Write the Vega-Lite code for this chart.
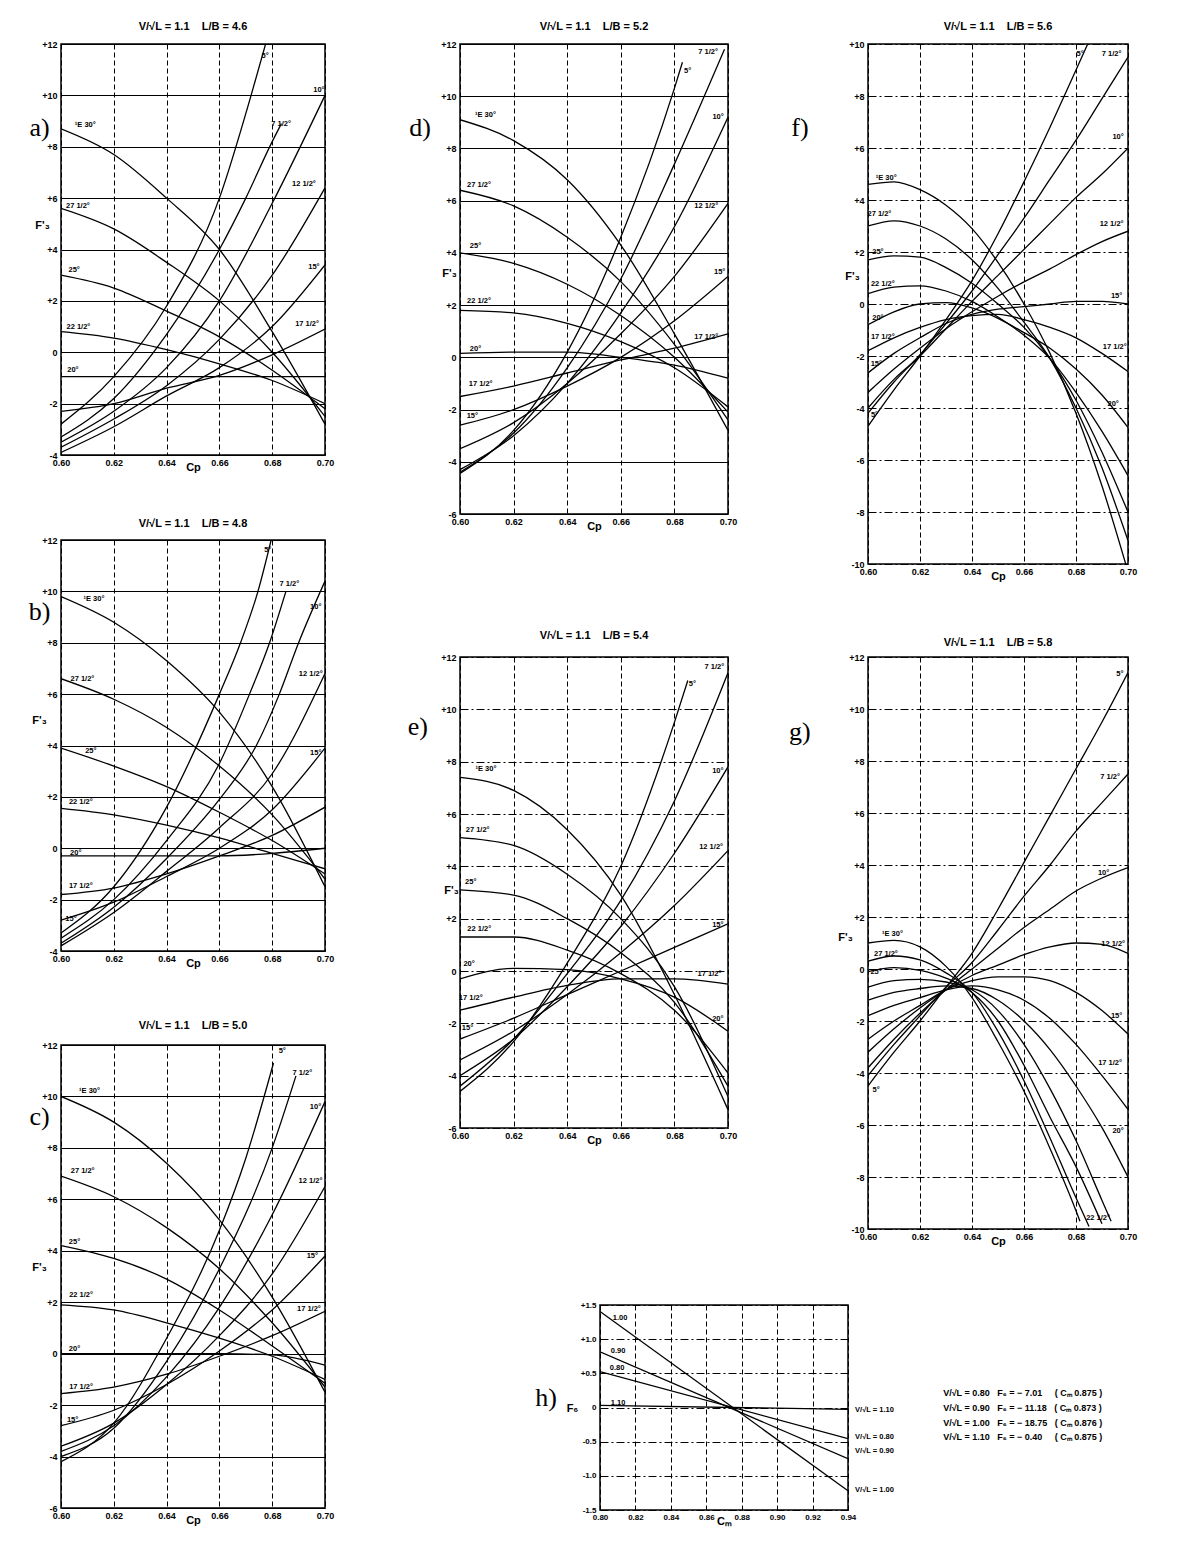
{
"$schema": "https://vega.github.io/schema/vega-lite/v6.json",
"background": "white",
"padding": {"left": 27, "top": 20, "right": 0, "bottom": 0},
"config": {
 "view": {"stroke": "black", "strokeWidth": 1.5},
 "title": {"font": "Liberation Sans", "fontSize": 11, "fontWeight": "bold", "color": "black"},
 "axis": {"domain": false, "ticks": false, "labelFont": "Liberation Sans", "labelFontSize": 9, "labelFontWeight": "bold", "labelColor": "black", "gridColor": "black", "gridOpacity": 1, "gridWidth": 1, "titleFont": "Liberation Sans", "titleFontSize": 11, "titleFontWeight": "bold", "titleColor": "black", "labelOverlap": false},
 "axisX": {"labelFlush": false, "labelPadding": 3, "titlePadding": -6, "gridDash": [5, 3]},
 "axisY": {"labelPadding": 4, "titleAngle": 0, "titleAlign": "center", "titleBaseline": "middle"},
 "line": {"interpolate": "monotone", "strokeWidth": 1.3, "color": "black"},
 "text": {"font": "Liberation Sans", "fontSize": 7.5, "fontWeight": "bold", "color": "black"}
},
"datasets": {
"curves": [
{"p":"a","c":"30","x":0.6,"y":8.7},{"p":"a","c":"30","x":0.62,"y":7.7},{"p":"a","c":"30","x":0.64,"y":6.0},{"p":"a","c":"30","x":0.66,"y":4.0},{"p":"a","c":"30","x":0.68,"y":0.8},{"p":"a","c":"30","x":0.7,"y":-2.8},
{"p":"a","c":"27","x":0.6,"y":5.6},{"p":"a","c":"27","x":0.62,"y":4.8},{"p":"a","c":"27","x":0.64,"y":3.5},{"p":"a","c":"27","x":0.66,"y":2.0},{"p":"a","c":"27","x":0.68,"y":0.0},{"p":"a","c":"27","x":0.7,"y":-2.5},
{"p":"a","c":"25","x":0.6,"y":3.0},{"p":"a","c":"25","x":0.62,"y":2.5},{"p":"a","c":"25","x":0.64,"y":1.6},{"p":"a","c":"25","x":0.66,"y":0.6},{"p":"a","c":"25","x":0.68,"y":-0.7},{"p":"a","c":"25","x":0.7,"y":-2.2},
{"p":"a","c":"22","x":0.6,"y":0.8},{"p":"a","c":"22","x":0.62,"y":0.55},{"p":"a","c":"22","x":0.64,"y":0.1},{"p":"a","c":"22","x":0.66,"y":-0.45},{"p":"a","c":"22","x":0.68,"y":-1.1},{"p":"a","c":"22","x":0.7,"y":-2.0},
{"p":"a","c":"20","x":0.6,"y":-0.95},{"p":"a","c":"20","x":0.62,"y":-0.95},{"p":"a","c":"20","x":0.64,"y":-0.95},{"p":"a","c":"20","x":0.66,"y":-0.95},{"p":"a","c":"20","x":0.68,"y":-0.95},{"p":"a","c":"20","x":0.7,"y":-0.95},
{"p":"a","c":"17","x":0.6,"y":-2.3},{"p":"a","c":"17","x":0.62,"y":-2.0},{"p":"a","c":"17","x":0.64,"y":-1.4},{"p":"a","c":"17","x":0.66,"y":-0.9},{"p":"a","c":"17","x":0.68,"y":-0.1},{"p":"a","c":"17","x":0.7,"y":0.9},
{"p":"a","c":"15","x":0.6,"y":-3.9},{"p":"a","c":"15","x":0.62,"y":-2.9},{"p":"a","c":"15","x":0.64,"y":-1.7},{"p":"a","c":"15","x":0.66,"y":-0.6},{"p":"a","c":"15","x":0.68,"y":1.0},{"p":"a","c":"15","x":0.7,"y":3.4},
{"p":"a","c":"12","x":0.6,"y":-3.7},{"p":"a","c":"12","x":0.62,"y":-2.6},{"p":"a","c":"12","x":0.64,"y":-1.3},{"p":"a","c":"12","x":0.66,"y":0.5},{"p":"a","c":"12","x":0.68,"y":3.0},{"p":"a","c":"12","x":0.7,"y":6.4},
{"p":"a","c":"10","x":0.6,"y":-3.5},{"p":"a","c":"10","x":0.62,"y":-2.3},{"p":"a","c":"10","x":0.64,"y":-0.6},{"p":"a","c":"10","x":0.66,"y":2.0},{"p":"a","c":"10","x":0.68,"y":5.8},{"p":"a","c":"10","x":0.7,"y":10.0},
{"p":"a","c":"7","x":0.6,"y":-3.3},{"p":"a","c":"7","x":0.62,"y":-1.8},{"p":"a","c":"7","x":0.64,"y":0.7},{"p":"a","c":"7","x":0.66,"y":4.0},{"p":"a","c":"7","x":0.67,"y":6.0},{"p":"a","c":"7","x":0.68,"y":8.2},{"p":"a","c":"7","x":0.6835,"y":8.9},
{"p":"a","c":"5","x":0.6,"y":-2.8},{"p":"a","c":"5","x":0.62,"y":-0.95},{"p":"a","c":"5","x":0.64,"y":1.8},{"p":"a","c":"5","x":0.66,"y":6.0},{"p":"a","c":"5","x":0.672,"y":10.0},{"p":"a","c":"5","x":0.6775,"y":12.0},

{"p":"b","c":"30","x":0.6,"y":9.8},{"p":"b","c":"30","x":0.62,"y":8.8},{"p":"b","c":"30","x":0.64,"y":7.3},{"p":"b","c":"30","x":0.66,"y":5.3},{"p":"b","c":"30","x":0.68,"y":2.4},{"p":"b","c":"30","x":0.7,"y":-1.5},
{"p":"b","c":"27","x":0.6,"y":6.6},{"p":"b","c":"27","x":0.62,"y":5.8},{"p":"b","c":"27","x":0.64,"y":4.7},{"p":"b","c":"27","x":0.66,"y":3.2},{"p":"b","c":"27","x":0.68,"y":1.3},{"p":"b","c":"27","x":0.7,"y":-1.2},
{"p":"b","c":"25","x":0.6,"y":3.9},{"p":"b","c":"25","x":0.62,"y":3.2},{"p":"b","c":"25","x":0.64,"y":2.4},{"p":"b","c":"25","x":0.66,"y":1.4},{"p":"b","c":"25","x":0.68,"y":0.3},{"p":"b","c":"25","x":0.7,"y":-1.0},
{"p":"b","c":"22","x":0.6,"y":1.55},{"p":"b","c":"22","x":0.62,"y":1.3},{"p":"b","c":"22","x":0.64,"y":0.9},{"p":"b","c":"22","x":0.66,"y":0.4},{"p":"b","c":"22","x":0.68,"y":-0.2},{"p":"b","c":"22","x":0.7,"y":-0.8},
{"p":"b","c":"20","x":0.6,"y":-0.3},{"p":"b","c":"20","x":0.62,"y":-0.3},{"p":"b","c":"20","x":0.64,"y":-0.3},{"p":"b","c":"20","x":0.66,"y":-0.3},{"p":"b","c":"20","x":0.68,"y":-0.2},{"p":"b","c":"20","x":0.7,"y":0.0},
{"p":"b","c":"17","x":0.6,"y":-1.8},{"p":"b","c":"17","x":0.62,"y":-1.55},{"p":"b","c":"17","x":0.64,"y":-1.0},{"p":"b","c":"17","x":0.66,"y":-0.3},{"p":"b","c":"17","x":0.68,"y":0.5},{"p":"b","c":"17","x":0.7,"y":1.6},
{"p":"b","c":"15","x":0.6,"y":-2.8},{"p":"b","c":"15","x":0.62,"y":-2.1},{"p":"b","c":"15","x":0.64,"y":-1.1},{"p":"b","c":"15","x":0.66,"y":0.0},{"p":"b","c":"15","x":0.68,"y":1.5},{"p":"b","c":"15","x":0.7,"y":3.9},
{"p":"b","c":"12","x":0.6,"y":-3.8},{"p":"b","c":"12","x":0.62,"y":-2.5},{"p":"b","c":"12","x":0.64,"y":-0.9},{"p":"b","c":"12","x":0.66,"y":0.8},{"p":"b","c":"12","x":0.68,"y":2.9},{"p":"b","c":"12","x":0.7,"y":6.8},
{"p":"b","c":"10","x":0.6,"y":-3.7},{"p":"b","c":"10","x":0.62,"y":-2.3},{"p":"b","c":"10","x":0.64,"y":-0.4},{"p":"b","c":"10","x":0.66,"y":1.9},{"p":"b","c":"10","x":0.674,"y":4.0},{"p":"b","c":"10","x":0.6827,"y":6.0},{"p":"b","c":"10","x":0.69,"y":8.0},{"p":"b","c":"10","x":0.7,"y":10.4},
{"p":"b","c":"7","x":0.6,"y":-3.5},{"p":"b","c":"7","x":0.62,"y":-2.0},{"p":"b","c":"7","x":0.64,"y":0.3},{"p":"b","c":"7","x":0.66,"y":3.3},{"p":"b","c":"7","x":0.6714,"y":6.0},{"p":"b","c":"7","x":0.679,"y":8.0},{"p":"b","c":"7","x":0.6852,"y":10.0},
{"p":"b","c":"5","x":0.6,"y":-3.3},{"p":"b","c":"5","x":0.62,"y":-1.5},{"p":"b","c":"5","x":0.64,"y":1.6},{"p":"b","c":"5","x":0.66,"y":6.0},{"p":"b","c":"5","x":0.668,"y":8.0},{"p":"b","c":"5","x":0.6746,"y":10.0},{"p":"b","c":"5","x":0.6796,"y":12.0},

{"p":"c","c":"30","x":0.6,"y":10.0},{"p":"c","c":"30","x":0.62,"y":9.0},{"p":"c","c":"30","x":0.64,"y":7.4},{"p":"c","c":"30","x":0.66,"y":5.2},{"p":"c","c":"30","x":0.68,"y":2.2},{"p":"c","c":"30","x":0.7,"y":-1.5},
{"p":"c","c":"27","x":0.6,"y":6.9},{"p":"c","c":"27","x":0.62,"y":6.1},{"p":"c","c":"27","x":0.64,"y":4.9},{"p":"c","c":"27","x":0.66,"y":3.3},{"p":"c","c":"27","x":0.68,"y":1.2},{"p":"c","c":"27","x":0.7,"y":-1.3},
{"p":"c","c":"25","x":0.6,"y":4.2},{"p":"c","c":"25","x":0.62,"y":3.7},{"p":"c","c":"25","x":0.64,"y":2.9},{"p":"c","c":"25","x":0.66,"y":1.7},{"p":"c","c":"25","x":0.68,"y":0.3},{"p":"c","c":"25","x":0.7,"y":-1.15},
{"p":"c","c":"22","x":0.6,"y":1.9},{"p":"c","c":"22","x":0.62,"y":1.7},{"p":"c","c":"22","x":0.64,"y":1.2},{"p":"c","c":"22","x":0.66,"y":0.6},{"p":"c","c":"22","x":0.68,"y":-0.1},{"p":"c","c":"22","x":0.7,"y":-1.0},
{"p":"c","c":"20","x":0.6,"y":0.0},{"p":"c","c":"20","x":0.62,"y":0.0},{"p":"c","c":"20","x":0.64,"y":0.0},{"p":"c","c":"20","x":0.66,"y":0.0},{"p":"c","c":"20","x":0.68,"y":-0.05},{"p":"c","c":"20","x":0.7,"y":-0.45},
{"p":"c","c":"17","x":0.6,"y":-1.55},{"p":"c","c":"17","x":0.62,"y":-1.3},{"p":"c","c":"17","x":0.64,"y":-0.8},{"p":"c","c":"17","x":0.66,"y":-0.1},{"p":"c","c":"17","x":0.68,"y":0.7},{"p":"c","c":"17","x":0.7,"y":1.65},
{"p":"c","c":"15","x":0.6,"y":-2.8},{"p":"c","c":"15","x":0.62,"y":-2.2},{"p":"c","c":"15","x":0.64,"y":-1.2},{"p":"c","c":"15","x":0.66,"y":0.1},{"p":"c","c":"15","x":0.68,"y":1.7},{"p":"c","c":"15","x":0.7,"y":3.8},
{"p":"c","c":"12","x":0.6,"y":-3.6},{"p":"c","c":"12","x":0.62,"y":-2.7},{"p":"c","c":"12","x":0.64,"y":-1.2},{"p":"c","c":"12","x":0.66,"y":0.7},{"p":"c","c":"12","x":0.68,"y":3.1},{"p":"c","c":"12","x":0.7,"y":6.5},
{"p":"c","c":"10","x":0.6,"y":-3.8},{"p":"c","c":"10","x":0.62,"y":-2.8},{"p":"c","c":"10","x":0.64,"y":-0.9},{"p":"c","c":"10","x":0.66,"y":1.8},{"p":"c","c":"10","x":0.68,"y":5.4},{"p":"c","c":"10","x":0.7,"y":9.8},
{"p":"c","c":"7","x":0.6,"y":-4.0},{"p":"c","c":"7","x":0.62,"y":-2.9},{"p":"c","c":"7","x":0.64,"y":-0.3},{"p":"c","c":"7","x":0.66,"y":3.3},{"p":"c","c":"7","x":0.68,"y":8.0},{"p":"c","c":"7","x":0.689,"y":10.8},
{"p":"c","c":"5","x":0.6,"y":-4.2},{"p":"c","c":"5","x":0.62,"y":-2.7},{"p":"c","c":"5","x":0.64,"y":0.6},{"p":"c","c":"5","x":0.66,"y":4.8},{"p":"c","c":"5","x":0.67,"y":7.6},{"p":"c","c":"5","x":0.6805,"y":11.3},

{"p":"d","c":"30","x":0.6,"y":9.1},{"p":"d","c":"30","x":0.62,"y":8.3},{"p":"d","c":"30","x":0.64,"y":6.8},{"p":"d","c":"30","x":0.66,"y":4.3},{"p":"d","c":"30","x":0.68,"y":0.9},{"p":"d","c":"30","x":0.7,"y":-2.8},
{"p":"d","c":"27","x":0.6,"y":6.4},{"p":"d","c":"27","x":0.62,"y":5.8},{"p":"d","c":"27","x":0.64,"y":4.6},{"p":"d","c":"27","x":0.66,"y":2.9},{"p":"d","c":"27","x":0.68,"y":0.5},{"p":"d","c":"27","x":0.7,"y":-2.4},
{"p":"d","c":"25","x":0.6,"y":4.0},{"p":"d","c":"25","x":0.62,"y":3.6},{"p":"d","c":"25","x":0.64,"y":2.8},{"p":"d","c":"25","x":0.66,"y":1.6},{"p":"d","c":"25","x":0.68,"y":0.0},{"p":"d","c":"25","x":0.7,"y":-2.1},
{"p":"d","c":"22","x":0.6,"y":1.8},{"p":"d","c":"22","x":0.62,"y":1.7},{"p":"d","c":"22","x":0.64,"y":1.3},{"p":"d","c":"22","x":0.66,"y":0.6},{"p":"d","c":"22","x":0.68,"y":-0.4},{"p":"d","c":"22","x":0.7,"y":-1.9},
{"p":"d","c":"20","x":0.6,"y":0.15},{"p":"d","c":"20","x":0.62,"y":0.2},{"p":"d","c":"20","x":0.64,"y":0.2},{"p":"d","c":"20","x":0.66,"y":0.0},{"p":"d","c":"20","x":0.68,"y":-0.3},{"p":"d","c":"20","x":0.7,"y":-0.8},
{"p":"d","c":"17","x":0.6,"y":-1.5},{"p":"d","c":"17","x":0.62,"y":-1.1},{"p":"d","c":"17","x":0.64,"y":-0.6},{"p":"d","c":"17","x":0.66,"y":-0.1},{"p":"d","c":"17","x":0.68,"y":0.35},{"p":"d","c":"17","x":0.7,"y":0.9},
{"p":"d","c":"15","x":0.6,"y":-2.6},{"p":"d","c":"15","x":0.62,"y":-2.0},{"p":"d","c":"15","x":0.64,"y":-1.1},{"p":"d","c":"15","x":0.66,"y":0.0},{"p":"d","c":"15","x":0.68,"y":1.4},{"p":"d","c":"15","x":0.7,"y":3.1},
{"p":"d","c":"12","x":0.6,"y":-3.5},{"p":"d","c":"12","x":0.62,"y":-2.5},{"p":"d","c":"12","x":0.64,"y":-1.0},{"p":"d","c":"12","x":0.66,"y":0.9},{"p":"d","c":"12","x":0.68,"y":3.1},{"p":"d","c":"12","x":0.7,"y":5.9},
{"p":"d","c":"10","x":0.6,"y":-4.3},{"p":"d","c":"10","x":0.62,"y":-3.0},{"p":"d","c":"10","x":0.64,"y":-1.0},{"p":"d","c":"10","x":0.66,"y":1.7},{"p":"d","c":"10","x":0.68,"y":5.0},{"p":"d","c":"10","x":0.7,"y":9.2},
{"p":"d","c":"7","x":0.6,"y":-4.4},{"p":"d","c":"7","x":0.62,"y":-2.9},{"p":"d","c":"7","x":0.64,"y":-0.4},{"p":"d","c":"7","x":0.66,"y":3.0},{"p":"d","c":"7","x":0.68,"y":7.4},{"p":"d","c":"7","x":0.6987,"y":11.8},
{"p":"d","c":"5","x":0.6,"y":-4.45},{"p":"d","c":"5","x":0.62,"y":-2.8},{"p":"d","c":"5","x":0.64,"y":0.2},{"p":"d","c":"5","x":0.66,"y":4.6},{"p":"d","c":"5","x":0.68,"y":10.3},{"p":"d","c":"5","x":0.683,"y":11.3},

{"p":"e","c":"30","x":0.6,"y":7.4},{"p":"e","c":"30","x":0.62,"y":6.9},{"p":"e","c":"30","x":0.64,"y":5.4},{"p":"e","c":"30","x":0.66,"y":2.9},{"p":"e","c":"30","x":0.68,"y":-0.9},{"p":"e","c":"30","x":0.7,"y":-5.3},
{"p":"e","c":"27","x":0.6,"y":5.1},{"p":"e","c":"27","x":0.62,"y":4.8},{"p":"e","c":"27","x":0.64,"y":3.7},{"p":"e","c":"27","x":0.66,"y":2.0},{"p":"e","c":"27","x":0.68,"y":-0.6},{"p":"e","c":"27","x":0.7,"y":-4.8},
{"p":"e","c":"25","x":0.6,"y":3.1},{"p":"e","c":"25","x":0.62,"y":2.9},{"p":"e","c":"25","x":0.64,"y":2.0},{"p":"e","c":"25","x":0.66,"y":0.7},{"p":"e","c":"25","x":0.68,"y":-1.2},{"p":"e","c":"25","x":0.7,"y":-4.4},
{"p":"e","c":"22","x":0.6,"y":1.3},{"p":"e","c":"22","x":0.62,"y":1.3},{"p":"e","c":"22","x":0.64,"y":0.8},{"p":"e","c":"22","x":0.66,"y":-0.1},{"p":"e","c":"22","x":0.68,"y":-1.5},{"p":"e","c":"22","x":0.7,"y":-3.9},
{"p":"e","c":"20","x":0.6,"y":-0.3},{"p":"e","c":"20","x":0.62,"y":0.1},{"p":"e","c":"20","x":0.64,"y":0.05},{"p":"e","c":"20","x":0.66,"y":-0.3},{"p":"e","c":"20","x":0.68,"y":-1.0},{"p":"e","c":"20","x":0.7,"y":-2.3},
{"p":"e","c":"17","x":0.6,"y":-1.5},{"p":"e","c":"17","x":0.62,"y":-1.0},{"p":"e","c":"17","x":0.64,"y":-0.55},{"p":"e","c":"17","x":0.66,"y":-0.3},{"p":"e","c":"17","x":0.68,"y":-0.3},{"p":"e","c":"17","x":0.7,"y":-0.5},
{"p":"e","c":"15","x":0.6,"y":-2.6},{"p":"e","c":"15","x":0.62,"y":-1.8},{"p":"e","c":"15","x":0.64,"y":-0.9},{"p":"e","c":"15","x":0.66,"y":0.0},{"p":"e","c":"15","x":0.68,"y":0.9},{"p":"e","c":"15","x":0.7,"y":1.8},
{"p":"e","c":"12","x":0.6,"y":-3.4},{"p":"e","c":"12","x":0.62,"y":-2.3},{"p":"e","c":"12","x":0.64,"y":-0.9},{"p":"e","c":"12","x":0.66,"y":0.7},{"p":"e","c":"12","x":0.68,"y":2.5},{"p":"e","c":"12","x":0.7,"y":4.6},
{"p":"e","c":"10","x":0.6,"y":-4.0},{"p":"e","c":"10","x":0.62,"y":-2.6},{"p":"e","c":"10","x":0.64,"y":-0.6},{"p":"e","c":"10","x":0.66,"y":1.7},{"p":"e","c":"10","x":0.68,"y":4.5},{"p":"e","c":"10","x":0.7,"y":7.8},
{"p":"e","c":"7","x":0.6,"y":-4.4},{"p":"e","c":"7","x":0.62,"y":-2.6},{"p":"e","c":"7","x":0.64,"y":-0.1},{"p":"e","c":"7","x":0.66,"y":2.7},{"p":"e","c":"7","x":0.68,"y":6.5},{"p":"e","c":"7","x":0.7,"y":11.4},
{"p":"e","c":"5","x":0.6,"y":-4.6},{"p":"e","c":"5","x":0.62,"y":-2.7},{"p":"e","c":"5","x":0.64,"y":0.3},{"p":"e","c":"5","x":0.66,"y":4.0},{"p":"e","c":"5","x":0.68,"y":9.5},{"p":"e","c":"5","x":0.685,"y":11.1},

{"p":"f","c":"30","x":0.6,"y":4.6},{"p":"f","c":"30","x":0.61,"y":4.7},{"p":"f","c":"30","x":0.62,"y":4.4},{"p":"f","c":"30","x":0.63,"y":3.8},{"p":"f","c":"30","x":0.64,"y":2.9},{"p":"f","c":"30","x":0.65,"y":1.6},{"p":"f","c":"30","x":0.66,"y":0.0},{"p":"f","c":"30","x":0.67,"y":-1.9},{"p":"f","c":"30","x":0.68,"y":-4.2},{"p":"f","c":"30","x":0.69,"y":-7.0},{"p":"f","c":"30","x":0.7,"y":-10.3},
{"p":"f","c":"27","x":0.6,"y":3.0},{"p":"f","c":"27","x":0.61,"y":3.2},{"p":"f","c":"27","x":0.62,"y":3.0},{"p":"f","c":"27","x":0.63,"y":2.5},{"p":"f","c":"27","x":0.64,"y":1.7},{"p":"f","c":"27","x":0.65,"y":0.6},{"p":"f","c":"27","x":0.66,"y":-0.7},{"p":"f","c":"27","x":0.67,"y":-2.1},{"p":"f","c":"27","x":0.68,"y":-4.0},{"p":"f","c":"27","x":0.69,"y":-6.3},{"p":"f","c":"27","x":0.7,"y":-9.1},
{"p":"f","c":"25","x":0.6,"y":1.7},{"p":"f","c":"25","x":0.61,"y":1.85},{"p":"f","c":"25","x":0.62,"y":1.8},{"p":"f","c":"25","x":0.63,"y":1.4},{"p":"f","c":"25","x":0.64,"y":0.8},{"p":"f","c":"25","x":0.65,"y":0.0},{"p":"f","c":"25","x":0.66,"y":-0.9},{"p":"f","c":"25","x":0.67,"y":-2.1},{"p":"f","c":"25","x":0.68,"y":-3.7},{"p":"f","c":"25","x":0.69,"y":-5.7},{"p":"f","c":"25","x":0.7,"y":-8.0},
{"p":"f","c":"22","x":0.6,"y":0.4},{"p":"f","c":"22","x":0.61,"y":0.65},{"p":"f","c":"22","x":0.62,"y":0.7},{"p":"f","c":"22","x":0.63,"y":0.5},{"p":"f","c":"22","x":0.64,"y":0.1},{"p":"f","c":"22","x":0.65,"y":-0.5},{"p":"f","c":"22","x":0.66,"y":-1.2},{"p":"f","c":"22","x":0.67,"y":-2.1},{"p":"f","c":"22","x":0.68,"y":-3.4},{"p":"f","c":"22","x":0.69,"y":-4.9},{"p":"f","c":"22","x":0.7,"y":-6.6},
{"p":"f","c":"20","x":0.6,"y":-0.8},{"p":"f","c":"20","x":0.61,"y":-0.3},{"p":"f","c":"20","x":0.62,"y":0.0},{"p":"f","c":"20","x":0.63,"y":0.05},{"p":"f","c":"20","x":0.64,"y":-0.15},{"p":"f","c":"20","x":0.65,"y":-0.55},{"p":"f","c":"20","x":0.66,"y":-1.1},{"p":"f","c":"20","x":0.67,"y":-1.7},{"p":"f","c":"20","x":0.68,"y":-2.5},{"p":"f","c":"20","x":0.69,"y":-3.5},{"p":"f","c":"20","x":0.7,"y":-4.75},
{"p":"f","c":"17","x":0.6,"y":-1.8},{"p":"f","c":"17","x":0.61,"y":-1.3},{"p":"f","c":"17","x":0.62,"y":-0.9},{"p":"f","c":"17","x":0.63,"y":-0.6},{"p":"f","c":"17","x":0.64,"y":-0.45},{"p":"f","c":"17","x":0.65,"y":-0.4},{"p":"f","c":"17","x":0.66,"y":-0.6},{"p":"f","c":"17","x":0.67,"y":-0.9},{"p":"f","c":"17","x":0.68,"y":-1.3},{"p":"f","c":"17","x":0.69,"y":-1.9},{"p":"f","c":"17","x":0.7,"y":-2.6},
{"p":"f","c":"15","x":0.6,"y":-2.65},{"p":"f","c":"15","x":0.61,"y":-1.9},{"p":"f","c":"15","x":0.62,"y":-1.3},{"p":"f","c":"15","x":0.63,"y":-0.75},{"p":"f","c":"15","x":0.64,"y":-0.4},{"p":"f","c":"15","x":0.65,"y":-0.2},{"p":"f","c":"15","x":0.66,"y":-0.1},{"p":"f","c":"15","x":0.67,"y":0.0},{"p":"f","c":"15","x":0.68,"y":0.1},{"p":"f","c":"15","x":0.69,"y":0.1},{"p":"f","c":"15","x":0.7,"y":0.0},
{"p":"f","c":"12","x":0.6,"y":-3.4},{"p":"f","c":"12","x":0.61,"y":-2.5},{"p":"f","c":"12","x":0.62,"y":-1.7},{"p":"f","c":"12","x":0.63,"y":-0.95},{"p":"f","c":"12","x":0.64,"y":-0.3},{"p":"f","c":"12","x":0.65,"y":0.3},{"p":"f","c":"12","x":0.66,"y":0.85},{"p":"f","c":"12","x":0.67,"y":1.35},{"p":"f","c":"12","x":0.68,"y":1.9},{"p":"f","c":"12","x":0.69,"y":2.4},{"p":"f","c":"12","x":0.7,"y":2.8},
{"p":"f","c":"10","x":0.6,"y":-4.0},{"p":"f","c":"10","x":0.61,"y":-2.9},{"p":"f","c":"10","x":0.62,"y":-2.0},{"p":"f","c":"10","x":0.63,"y":-0.95},{"p":"f","c":"10","x":0.64,"y":0.1},{"p":"f","c":"10","x":0.65,"y":1.1},{"p":"f","c":"10","x":0.66,"y":2.1},{"p":"f","c":"10","x":0.67,"y":3.1},{"p":"f","c":"10","x":0.68,"y":4.1},{"p":"f","c":"10","x":0.69,"y":5.0},{"p":"f","c":"10","x":0.7,"y":6.0},
{"p":"f","c":"7","x":0.6,"y":-4.2},{"p":"f","c":"7","x":0.61,"y":-3.0},{"p":"f","c":"7","x":0.62,"y":-1.95},{"p":"f","c":"7","x":0.63,"y":-0.75},{"p":"f","c":"7","x":0.64,"y":0.5},{"p":"f","c":"7","x":0.65,"y":1.9},{"p":"f","c":"7","x":0.66,"y":3.3},{"p":"f","c":"7","x":0.67,"y":4.8},{"p":"f","c":"7","x":0.68,"y":6.3},{"p":"f","c":"7","x":0.69,"y":7.9},{"p":"f","c":"7","x":0.7,"y":9.5},
{"p":"f","c":"5","x":0.6,"y":-4.7},{"p":"f","c":"5","x":0.61,"y":-3.3},{"p":"f","c":"5","x":0.62,"y":-2.0},{"p":"f","c":"5","x":0.63,"y":-0.6},{"p":"f","c":"5","x":0.64,"y":0.9},{"p":"f","c":"5","x":0.65,"y":2.7},{"p":"f","c":"5","x":0.66,"y":4.7},{"p":"f","c":"5","x":0.67,"y":6.8},{"p":"f","c":"5","x":0.68,"y":9.0},{"p":"f","c":"5","x":0.6845,"y":10.0},

{"p":"g","c":"30","x":0.6,"y":1.0},{"p":"g","c":"30","x":0.61,"y":1.1},{"p":"g","c":"30","x":0.62,"y":0.85},{"p":"g","c":"30","x":0.63,"y":0.1},{"p":"g","c":"30","x":0.64,"y":-1.1},{"p":"g","c":"30","x":0.65,"y":-2.8},{"p":"g","c":"30","x":0.66,"y":-4.7},{"p":"g","c":"30","x":0.67,"y":-6.9},{"p":"g","c":"30","x":0.68,"y":-9.3},{"p":"g","c":"30","x":0.6815,"y":-9.7},
{"p":"g","c":"27","x":0.6,"y":0.3},{"p":"g","c":"27","x":0.61,"y":0.5},{"p":"g","c":"27","x":0.62,"y":0.35},{"p":"g","c":"27","x":0.63,"y":-0.15},{"p":"g","c":"27","x":0.64,"y":-0.9},{"p":"g","c":"27","x":0.65,"y":-2.4},{"p":"g","c":"27","x":0.66,"y":-4.3},{"p":"g","c":"27","x":0.67,"y":-6.5},{"p":"g","c":"27","x":0.68,"y":-8.8},{"p":"g","c":"27","x":0.685,"y":-9.9},
{"p":"g","c":"25","x":0.6,"y":-0.1},{"p":"g","c":"25","x":0.61,"y":0.05},{"p":"g","c":"25","x":0.62,"y":-0.05},{"p":"g","c":"25","x":0.63,"y":-0.35},{"p":"g","c":"25","x":0.64,"y":-0.9},{"p":"g","c":"25","x":0.65,"y":-2.0},{"p":"g","c":"25","x":0.66,"y":-3.7},{"p":"g","c":"25","x":0.67,"y":-5.7},{"p":"g","c":"25","x":0.68,"y":-7.6},{"p":"g","c":"25","x":0.69,"y":-9.8},
{"p":"g","c":"22","x":0.6,"y":-0.7},{"p":"g","c":"22","x":0.61,"y":-0.45},{"p":"g","c":"22","x":0.62,"y":-0.4},{"p":"g","c":"22","x":0.63,"y":-0.5},{"p":"g","c":"22","x":0.64,"y":-0.8},{"p":"g","c":"22","x":0.65,"y":-1.6},{"p":"g","c":"22","x":0.66,"y":-2.9},{"p":"g","c":"22","x":0.67,"y":-4.6},{"p":"g","c":"22","x":0.68,"y":-6.6},{"p":"g","c":"22","x":0.69,"y":-8.9},{"p":"g","c":"22","x":0.6935,"y":-9.7},
{"p":"g","c":"20","x":0.6,"y":-1.2},{"p":"g","c":"20","x":0.61,"y":-0.9},{"p":"g","c":"20","x":0.62,"y":-0.75},{"p":"g","c":"20","x":0.63,"y":-0.65},{"p":"g","c":"20","x":0.64,"y":-0.75},{"p":"g","c":"20","x":0.65,"y":-1.2},{"p":"g","c":"20","x":0.66,"y":-2.0},{"p":"g","c":"20","x":0.67,"y":-3.1},{"p":"g","c":"20","x":0.68,"y":-4.5},{"p":"g","c":"20","x":0.69,"y":-6.1},{"p":"g","c":"20","x":0.7,"y":-8.0},
{"p":"g","c":"17","x":0.6,"y":-1.8},{"p":"g","c":"17","x":0.61,"y":-1.4},{"p":"g","c":"17","x":0.62,"y":-1.1},{"p":"g","c":"17","x":0.63,"y":-0.8},{"p":"g","c":"17","x":0.64,"y":-0.65},{"p":"g","c":"17","x":0.65,"y":-0.8},{"p":"g","c":"17","x":0.66,"y":-1.2},{"p":"g","c":"17","x":0.67,"y":-1.9},{"p":"g","c":"17","x":0.68,"y":-2.9},{"p":"g","c":"17","x":0.69,"y":-4.1},{"p":"g","c":"17","x":0.7,"y":-5.4},
{"p":"g","c":"15","x":0.6,"y":-2.7},{"p":"g","c":"15","x":0.61,"y":-2.0},{"p":"g","c":"15","x":0.62,"y":-1.4},{"p":"g","c":"15","x":0.63,"y":-0.8},{"p":"g","c":"15","x":0.64,"y":-0.45},{"p":"g","c":"15","x":0.65,"y":-0.3},{"p":"g","c":"15","x":0.66,"y":-0.3},{"p":"g","c":"15","x":0.67,"y":-0.45},{"p":"g","c":"15","x":0.68,"y":-0.9},{"p":"g","c":"15","x":0.69,"y":-1.6},{"p":"g","c":"15","x":0.7,"y":-2.5},
{"p":"g","c":"12","x":0.6,"y":-3.2},{"p":"g","c":"12","x":0.61,"y":-2.3},{"p":"g","c":"12","x":0.62,"y":-1.5},{"p":"g","c":"12","x":0.63,"y":-0.8},{"p":"g","c":"12","x":0.64,"y":-0.25},{"p":"g","c":"12","x":0.65,"y":0.15},{"p":"g","c":"12","x":0.66,"y":0.55},{"p":"g","c":"12","x":0.67,"y":0.85},{"p":"g","c":"12","x":0.68,"y":1.0},{"p":"g","c":"12","x":0.69,"y":0.95},{"p":"g","c":"12","x":0.7,"y":0.6},
{"p":"g","c":"10","x":0.6,"y":-3.8},{"p":"g","c":"10","x":0.61,"y":-2.7},{"p":"g","c":"10","x":0.62,"y":-1.7},{"p":"g","c":"10","x":0.63,"y":-0.8},{"p":"g","c":"10","x":0.64,"y":0.0},{"p":"g","c":"10","x":0.65,"y":0.8},{"p":"g","c":"10","x":0.66,"y":1.6},{"p":"g","c":"10","x":0.67,"y":2.3},{"p":"g","c":"10","x":0.68,"y":3.0},{"p":"g","c":"10","x":0.69,"y":3.5},{"p":"g","c":"10","x":0.7,"y":3.9},
{"p":"g","c":"7","x":0.6,"y":-4.1},{"p":"g","c":"7","x":0.61,"y":-2.9},{"p":"g","c":"7","x":0.62,"y":-1.8},{"p":"g","c":"7","x":0.63,"y":-0.7},{"p":"g","c":"7","x":0.64,"y":0.25},{"p":"g","c":"7","x":0.65,"y":1.5},{"p":"g","c":"7","x":0.66,"y":2.8},{"p":"g","c":"7","x":0.67,"y":4.0},{"p":"g","c":"7","x":0.68,"y":5.3},{"p":"g","c":"7","x":0.69,"y":6.4},{"p":"g","c":"7","x":0.7,"y":7.5},
{"p":"g","c":"5","x":0.6,"y":-4.5},{"p":"g","c":"5","x":0.61,"y":-3.2},{"p":"g","c":"5","x":0.62,"y":-2.0},{"p":"g","c":"5","x":0.63,"y":-0.7},{"p":"g","c":"5","x":0.64,"y":0.6},{"p":"g","c":"5","x":0.65,"y":2.3},{"p":"g","c":"5","x":0.66,"y":4.1},{"p":"g","c":"5","x":0.67,"y":5.9},{"p":"g","c":"5","x":0.68,"y":7.7},{"p":"g","c":"5","x":0.69,"y":9.5},{"p":"g","c":"5","x":0.7,"y":11.4}
],
"labels": [
{"p":"a","t":"5°","x":0.6773,"y":11.55},{"p":"a","t":"10°","x":0.6977,"y":10.2},{"p":"a","t":"7 1/2°","x":0.6834,"y":8.9},{"p":"a","t":"12 1/2°","x":0.692,"y":6.55},{"p":"a","t":"15°","x":0.6958,"y":3.3},{"p":"a","t":"17 1/2°","x":0.6932,"y":1.1},{"p":"a","t":"¹E 30°","x":0.6092,"y":8.85},{"p":"a","t":"27 1/2°","x":0.6064,"y":5.7},{"p":"a","t":"25°","x":0.605,"y":3.2},{"p":"a","t":"22 1/2°","x":0.6066,"y":0.97},{"p":"a","t":"20°","x":0.6045,"y":-0.71},
{"p":"b","t":"5°","x":0.6783,"y":11.6},{"p":"b","t":"7 1/2°","x":0.6865,"y":10.3},{"p":"b","t":"10°","x":0.6965,"y":9.4},{"p":"b","t":"12 1/2°","x":0.6946,"y":6.8},{"p":"b","t":"15°","x":0.6965,"y":3.7},{"p":"b","t":"¹E 30°","x":0.6125,"y":9.7},{"p":"b","t":"27 1/2°","x":0.6081,"y":6.6},{"p":"b","t":"25°","x":0.6113,"y":3.8},{"p":"b","t":"22 1/2°","x":0.6075,"y":1.8},{"p":"b","t":"20°","x":0.6056,"y":-0.2},{"p":"b","t":"17 1/2°","x":0.6075,"y":-1.48},{"p":"b","t":"15°","x":0.6038,"y":-2.76},
{"p":"c","t":"5°","x":0.6838,"y":11.75},{"p":"c","t":"7 1/2°","x":0.6914,"y":10.9},{"p":"c","t":"10°","x":0.6964,"y":9.6},{"p":"c","t":"12 1/2°","x":0.6945,"y":6.7},{"p":"c","t":"15°","x":0.6952,"y":3.8},{"p":"c","t":"17 1/2°","x":0.6939,"y":1.73},{"p":"c","t":"¹E 30°","x":0.6108,"y":10.2},{"p":"c","t":"27 1/2°","x":0.6082,"y":7.1},{"p":"c","t":"25°","x":0.6051,"y":4.36},{"p":"c","t":"22 1/2°","x":0.6076,"y":2.3},{"p":"c","t":"20°","x":0.6051,"y":0.19},{"p":"c","t":"17 1/2°","x":0.6076,"y":-1.28},{"p":"c","t":"15°","x":0.6044,"y":-2.57},
{"p":"d","t":"7 1/2°","x":0.6926,"y":11.7},{"p":"d","t":"5°","x":0.6849,"y":10.95},{"p":"d","t":"10°","x":0.6963,"y":9.2},{"p":"d","t":"12 1/2°","x":0.6919,"y":5.8},{"p":"d","t":"15°","x":0.6969,"y":3.25},{"p":"d","t":"17 1/2°","x":0.6919,"y":0.76},{"p":"d","t":"¹E 30°","x":0.6095,"y":9.3},{"p":"d","t":"27 1/2°","x":0.6071,"y":6.6},{"p":"d","t":"25°","x":0.6058,"y":4.27},{"p":"d","t":"22 1/2°","x":0.6071,"y":2.17},{"p":"d","t":"20°","x":0.6058,"y":0.32},{"p":"d","t":"17 1/2°","x":0.6077,"y":-1.02},{"p":"d","t":"15°","x":0.6046,"y":-2.23},
{"p":"e","t":"5°","x":0.6867,"y":10.97},{"p":"e","t":"7 1/2°","x":0.6949,"y":11.6},{"p":"e","t":"10°","x":0.6962,"y":7.66},{"p":"e","t":"12 1/2°","x":0.6937,"y":4.73},{"p":"e","t":"15°","x":0.6962,"y":1.74},{"p":"e","t":"17 1/2°","x":0.6931,"y":-0.13},{"p":"e","t":"20°","x":0.6962,"y":-1.82},{"p":"e","t":"¹E 30°","x":0.6097,"y":7.72},{"p":"e","t":"27 1/2°","x":0.6066,"y":5.37},{"p":"e","t":"25°","x":0.604,"y":3.4},{"p":"e","t":"22 1/2°","x":0.6072,"y":1.62},{"p":"e","t":"20°","x":0.6034,"y":0.28},{"p":"e","t":"17 1/2°","x":0.604,"y":-1.02},{"p":"e","t":"15°","x":0.6028,"y":-2.16},
{"p":"f","t":"5°","x":0.6816,"y":9.6},{"p":"f","t":"7 1/2°","x":0.6937,"y":9.6},{"p":"f","t":"10°","x":0.6962,"y":6.43},{"p":"f","t":"12 1/2°","x":0.6937,"y":3.08},{"p":"f","t":"15°","x":0.6956,"y":0.32},{"p":"f","t":"17 1/2°","x":0.6949,"y":-1.64},{"p":"f","t":"20°","x":0.6943,"y":-3.83},{"p":"f","t":"¹E 30°","x":0.607,"y":4.86},{"p":"f","t":"27 1/2°","x":0.6044,"y":3.45},{"p":"f","t":"25°","x":0.6038,"y":2.0},{"p":"f","t":"22 1/2°","x":0.6057,"y":0.76},{"p":"f","t":"20°","x":0.6038,"y":-0.55},{"p":"f","t":"17 1/2°","x":0.6057,"y":-1.28},{"p":"f","t":"15°","x":0.6032,"y":-2.3},{"p":"f","t":"5°","x":0.6025,"y":-4.26},
{"p":"g","t":"5°","x":0.6969,"y":11.33},{"p":"g","t":"7 1/2°","x":0.6931,"y":7.4},{"p":"g","t":"10°","x":0.6906,"y":3.69},{"p":"g","t":"12 1/2°","x":0.6943,"y":0.97},{"p":"g","t":"15°","x":0.6956,"y":-1.81},{"p":"g","t":"17 1/2°","x":0.6931,"y":-3.6},{"p":"g","t":"20°","x":0.6962,"y":-6.24},{"p":"g","t":"22 1/2°","x":0.6885,"y":-9.58},{"p":"g","t":"¹E 30°","x":0.6094,"y":1.33},{"p":"g","t":"27 1/2°","x":0.6069,"y":0.59},{"p":"g","t":"25°","x":0.6031,"y":-0.13},{"p":"g","t":"5°","x":0.6031,"y":-4.64},
{"p":"h","t":"1.00","x":0.8113,"y":1.31},{"p":"h","t":"0.90","x":0.8102,"y":0.83},{"p":"h","t":"0.80","x":0.8096,"y":0.58},{"p":"h","t":"1.10","x":0.8102,"y":0.07}
],
"tags": [
{"p":"a","t":"a)","x":0.59186,"y":8.73},{"p":"b","t":"b)","x":0.59186,"y":9.2},{"p":"c","t":"c)","x":0.59186,"y":9.2},{"p":"d","t":"d)","x":0.5851,"y":8.78},{"p":"e","t":"e)","x":0.5843,"y":9.33},{"p":"f","t":"f)","x":0.5738,"y":6.77},{"p":"g","t":"g)","x":0.5738,"y":9.12},{"p":"h","t":"h)","x":0.7695,"y":0.139}
],
"hlines": [
{"c":"1.00","x":0.8,"y":1.406},{"c":"1.00","x":0.94,"y":-1.219},{"c":"0.90","x":0.8,"y":0.816},{"c":"0.90","x":0.94,"y":-0.749},{"c":"0.80","x":0.8,"y":0.526},{"c":"0.80","x":0.94,"y":-0.456},{"c":"1.10","x":0.8,"y":0.03},{"c":"1.10","x":0.94,"y":-0.026}
],
"hnotes": [
{"t":"V/√L = 1.10","x":0.944,"y":-0.04},{"t":"V/√L = 0.80","x":0.944,"y":-0.43},{"t":"V/√L = 0.90","x":0.944,"y":-0.64},{"t":"V/√L = 1.00","x":0.944,"y":-1.21}
],
"hleg": [
{"t":"V/√L = 0.80\u00a0\u00a0 F₆ = −\u00a07.01\u00a0\u00a0\u00a0\u00a0 ( Cₘ 0.875 )","x":0.9937,"y":0.212},
{"t":"V/√L = 0.90\u00a0\u00a0 F₆ = −\u00a011.18\u00a0\u00a0 ( Cₘ 0.873 )","x":0.9937,"y":-0.007},
{"t":"V/√L = 1.00\u00a0\u00a0 F₆ = −\u00a018.75\u00a0\u00a0 ( Cₘ 0.876 )","x":0.9937,"y":-0.227},
{"t":"V/√L = 1.10\u00a0\u00a0 F₆ = −\u00a00.40\u00a0\u00a0\u00a0\u00a0 ( Cₘ 0.875 )","x":0.9937,"y":-0.432}
]
},
"spacing": 72,
"hconcat": [
{"vconcat": [
 {"vconcat": [
  {"width": 264, "height": 411,
   "title": {"text": "V/√L = 1.1\u00a0\u00a0\u00a0\u00a0L/B = 4.6", "offset": 8},
   "encoding": {
    "x": {"field": "x", "type": "quantitative", "scale": {"domain": [0.6, 0.7], "nice": false, "zero": false}, "axis": {"values": [0.6, 0.62, 0.64, 0.66, 0.68, 0.7], "format": ".2f", "title": "Cp"}},
    "y": {"field": "y", "type": "quantitative", "scale": {"domain": [-4, 12], "nice": false, "zero": false}, "axis": {"values": [-4, -2, 0, 2, 4, 6, 8, 10, 12], "labelExpr": "datum.value > 0 ? '+' + datum.value : (datum.value < 0 ? '-' + abs(datum.value) : '0')", "title": "F'₃", "titleX": -19, "titleY": 181}}
   },
   "layer": [
    {"data": {"name": "curves"}, "transform": [{"filter": "datum.p == 'a'"}], "mark": {"type": "line", "clip": true}, "encoding": {"detail": {"field": "c"}}},
    {"data": {"name": "labels"}, "transform": [{"filter": "datum.p == 'a'"}], "mark": {"type": "text", "color": "black"}, "encoding": {"text": {"field": "t"}}},
    {"data": {"name": "tags"}, "transform": [{"filter": "datum.p == 'a'"}], "mark": {"type": "text", "color": "black", "font": "Liberation Serif", "fontSize": 26, "fontWeight": "normal"}, "encoding": {"text": {"field": "t"}}}
   ]},
  {"width": 264, "height": 411,
   "title": {"text": "V/√L = 1.1\u00a0\u00a0\u00a0\u00a0L/B = 4.8", "offset": 7},
   "encoding": {
    "x": {"field": "x", "type": "quantitative", "scale": {"domain": [0.6, 0.7], "nice": false, "zero": false}, "axis": {"values": [0.6, 0.62, 0.64, 0.66, 0.68, 0.7], "format": ".2f", "title": "Cp"}},
    "y": {"field": "y", "type": "quantitative", "scale": {"domain": [-4, 12], "nice": false, "zero": false}, "axis": {"values": [-4, -2, 0, 2, 4, 6, 8, 10, 12], "labelExpr": "datum.value > 0 ? '+' + datum.value : (datum.value < 0 ? '-' + abs(datum.value) : '0')", "title": "F'₃", "titleX": -22, "titleY": 180}}
   },
   "layer": [
    {"data": {"name": "curves"}, "transform": [{"filter": "datum.p == 'b'"}], "mark": {"type": "line", "clip": true}, "encoding": {"detail": {"field": "c"}}},
    {"data": {"name": "labels"}, "transform": [{"filter": "datum.p == 'b'"}], "mark": {"type": "text", "color": "black"}, "encoding": {"text": {"field": "t"}}},
    {"data": {"name": "tags"}, "transform": [{"filter": "datum.p == 'b'"}], "mark": {"type": "text", "color": "black", "font": "Liberation Serif", "fontSize": 26, "fontWeight": "normal"}, "encoding": {"text": {"field": "t"}}}
   ]}
 ], "spacing": 44},
 {"width": 264, "height": 463,
  "title": {"text": "V/√L = 1.1\u00a0\u00a0\u00a0\u00a0L/B = 5.0", "offset": 10},
  "encoding": {
   "x": {"field": "x", "type": "quantitative", "scale": {"domain": [0.6, 0.7], "nice": false, "zero": false}, "axis": {"values": [0.6, 0.62, 0.64, 0.66, 0.68, 0.7], "format": ".2f", "title": "Cp"}},
   "y": {"field": "y", "type": "quantitative", "scale": {"domain": [-6, 12], "nice": false, "zero": false}, "axis": {"values": [-6, -4, -2, 0, 2, 4, 6, 8, 10, 12], "labelExpr": "datum.value > 0 ? '+' + datum.value : (datum.value < 0 ? '-' + abs(datum.value) : '0')", "title": "F'₃", "titleX": -22, "titleY": 222}}
  },
  "layer": [
   {"data": {"name": "curves"}, "transform": [{"filter": "datum.p == 'c'"}], "mark": {"type": "line", "clip": true}, "encoding": {"detail": {"field": "c"}}},
   {"data": {"name": "labels"}, "transform": [{"filter": "datum.p == 'c'"}], "mark": {"type": "text", "color": "black"}, "encoding": {"text": {"field": "t"}}},
   {"data": {"name": "tags"}, "transform": [{"filter": "datum.p == 'c'"}], "mark": {"type": "text", "color": "black", "font": "Liberation Serif", "fontSize": 26, "fontWeight": "normal"}, "encoding": {"text": {"field": "t"}}}
  ]}
], "spacing": 50},
{"vconcat": [
 {"hconcat": [
  {"vconcat": [
   {"width": 268, "height": 470,
    "title": {"text": "V/√L = 1.1\u00a0\u00a0\u00a0\u00a0L/B = 5.2", "offset": 8},
    "encoding": {
     "x": {"field": "x", "type": "quantitative", "scale": {"domain": [0.6, 0.7], "nice": false, "zero": false}, "axis": {"values": [0.6, 0.62, 0.64, 0.66, 0.68, 0.7], "format": ".2f", "title": "Cp"}},
     "y": {"field": "y", "type": "quantitative", "scale": {"domain": [-6, 12], "nice": false, "zero": false}, "axis": {"values": [-6, -4, -2, 0, 2, 4, 6, 8, 10, 12], "labelExpr": "datum.value > 0 ? '+' + datum.value : (datum.value < 0 ? '-' + abs(datum.value) : '0')", "title": "F'₃", "titleX": -11, "titleY": 229}}
    },
    "layer": [
     {"data": {"name": "curves"}, "transform": [{"filter": "datum.p == 'd'"}], "mark": {"type": "line", "clip": true}, "encoding": {"detail": {"field": "c"}}},
     {"data": {"name": "labels"}, "transform": [{"filter": "datum.p == 'd'"}], "mark": {"type": "text", "color": "black"}, "encoding": {"text": {"field": "t"}}},
     {"data": {"name": "tags"}, "transform": [{"filter": "datum.p == 'd'"}], "mark": {"type": "text", "color": "black", "font": "Liberation Serif", "fontSize": 26, "fontWeight": "normal"}, "encoding": {"text": {"field": "t"}}}
    ]},
   {"width": 268, "height": 471,
    "title": {"text": "V/√L = 1.1\u00a0\u00a0\u00a0\u00a0L/B = 5.4", "offset": 12},
    "encoding": {
     "x": {"field": "x", "type": "quantitative", "scale": {"domain": [0.6, 0.7], "nice": false, "zero": false}, "axis": {"values": [0.6, 0.62, 0.64, 0.66, 0.68, 0.7], "format": ".2f", "title": "Cp"}},
     "y": {"field": "y", "type": "quantitative", "scale": {"domain": [-6, 12], "nice": false, "zero": false}, "axis": {"values": [-6, -4, -2, 0, 2, 4, 6, 8, 10, 12], "labelExpr": "datum.value > 0 ? '+' + datum.value : (datum.value < 0 ? '-' + abs(datum.value) : '0')", "title": "F'₃", "titleX": -9, "titleY": 233, "gridDash": [8, 3, 2, 3]}}
    },
    "layer": [
     {"data": {"name": "curves"}, "transform": [{"filter": "datum.p == 'e'"}], "mark": {"type": "line", "clip": true}, "encoding": {"detail": {"field": "c"}}},
     {"data": {"name": "labels"}, "transform": [{"filter": "datum.p == 'e'"}], "mark": {"type": "text", "color": "black"}, "encoding": {"text": {"field": "t"}}},
     {"data": {"name": "tags"}, "transform": [{"filter": "datum.p == 'e'"}], "mark": {"type": "text", "color": "black", "font": "Liberation Serif", "fontSize": 26, "fontWeight": "normal"}, "encoding": {"text": {"field": "t"}}}
    ]}
  ], "spacing": 97},
  {"vconcat": [
   {"width": 260, "height": 520,
    "title": {"text": "V/√L = 1.1\u00a0\u00a0\u00a0\u00a0L/B = 5.6", "offset": 8},
    "encoding": {
     "x": {"field": "x", "type": "quantitative", "scale": {"domain": [0.6, 0.7], "nice": false, "zero": false}, "axis": {"values": [0.6, 0.62, 0.64, 0.66, 0.68, 0.7], "format": ".2f", "title": "Cp"}},
     "y": {"field": "y", "type": "quantitative", "scale": {"domain": [-10, 10], "nice": false, "zero": false}, "axis": {"values": [-10, -8, -6, -4, -2, 0, 2, 4, 6, 8, 10], "labelExpr": "datum.value > 0 ? '+' + datum.value : (datum.value < 0 ? '-' + abs(datum.value) : '0')", "title": "F'₃", "titleX": -16, "titleY": 232, "gridDash": [8, 3, 2, 3]}}
    },
    "layer": [
     {"data": {"name": "curves"}, "transform": [{"filter": "datum.p == 'f'"}], "mark": {"type": "line", "clip": true}, "encoding": {"detail": {"field": "c"}}},
     {"data": {"name": "labels"}, "transform": [{"filter": "datum.p == 'f'"}], "mark": {"type": "text", "color": "black"}, "encoding": {"text": {"field": "t"}}},
     {"data": {"name": "tags"}, "transform": [{"filter": "datum.p == 'f'"}], "mark": {"type": "text", "color": "black", "font": "Liberation Serif", "fontSize": 26, "fontWeight": "normal"}, "encoding": {"text": {"field": "t"}}}
    ]},
   {"width": 260, "height": 572,
    "title": {"text": "V/√L = 1.1\u00a0\u00a0\u00a0\u00a0L/B = 5.8", "offset": 5},
    "encoding": {
     "x": {"field": "x", "type": "quantitative", "scale": {"domain": [0.6, 0.7], "nice": false, "zero": false}, "axis": {"values": [0.6, 0.62, 0.64, 0.66, 0.68, 0.7], "format": ".2f", "title": "Cp"}},
     "y": {"field": "y", "type": "quantitative", "scale": {"domain": [-10, 12], "nice": false, "zero": false}, "axis": {"values": [-10, -8, -6, -4, -2, 0, 2, 4, 6, 8, 10, 12], "labelExpr": "datum.value > 0 ? '+' + datum.value : (datum.value < 0 ? '-' + abs(datum.value) : '0')", "title": "F'₃", "titleX": -23, "titleY": 280, "gridDash": [8, 3, 2, 3]}}
    },
    "layer": [
     {"data": {"name": "curves"}, "transform": [{"filter": "datum.p == 'g'"}], "mark": {"type": "line", "clip": true}, "encoding": {"detail": {"field": "c"}}},
     {"data": {"name": "labels"}, "transform": [{"filter": "datum.p == 'g'"}], "mark": {"type": "text", "color": "black"}, "encoding": {"text": {"field": "t"}}},
     {"data": {"name": "tags"}, "transform": [{"filter": "datum.p == 'g'"}], "mark": {"type": "text", "color": "black", "font": "Liberation Serif", "fontSize": 26, "fontWeight": "normal"}, "encoding": {"text": {"field": "t"}}}
    ]}
  ], "spacing": 54}
 ], "spacing": 50},
 {"hconcat": [
  {"width": 46, "height": 205, "view": {"stroke": "transparent", "fill": "transparent"}, "data": {"values": [{}]}, "mark": {"type": "text", "text": ""}},
  {"width": 248, "height": 205,
   "encoding": {
    "x": {"field": "x", "type": "quantitative", "scale": {"domain": [0.8, 0.94], "nice": false, "zero": false}, "axis": {"values": [0.8, 0.82, 0.84, 0.86, 0.88, 0.9, 0.92, 0.94], "format": ".2f", "title": "Cₘ", "labelFontSize": 8, "labelColor": "black"}},
    "y": {"field": "y", "type": "quantitative", "scale": {"domain": [-1.5, 1.5], "nice": false, "zero": false}, "axis": {"values": [-1.5, -1, -0.5, 0, 0.5, 1, 1.5], "labelExpr": "datum.value > 0 ? '+' + format(datum.value, '.1f') : (datum.value < 0 ? '-' + format(abs(datum.value), '.1f') : '0')", "title": "F₆", "titleX": -28, "titleY": 103, "gridDash": [8, 3, 2, 3], "labelFontSize": 8, "labelColor": "black"}}
   },
   "layer": [
    {"data": {"name": "hlines"}, "mark": {"type": "line", "interpolate": "linear", "clip": true}, "encoding": {"detail": {"field": "c"}}},
    {"data": {"name": "labels"}, "transform": [{"filter": "datum.p == 'h'"}], "mark": {"type": "text", "color": "black"}, "encoding": {"text": {"field": "t"}}},
    {"data": {"name": "hnotes"}, "mark": {"type": "text", "align": "left", "color": "black"}, "encoding": {"text": {"field": "t"}}},
    {"data": {"name": "hleg"}, "mark": {"type": "text", "align": "left", "color": "black", "fontSize": 9}, "encoding": {"text": {"field": "t"}}},
    {"data": {"name": "tags"}, "transform": [{"filter": "datum.p == 'h'"}], "mark": {"type": "text", "color": "black", "font": "Liberation Serif", "fontSize": 26, "fontWeight": "normal"}, "encoding": {"text": {"field": "t"}}}
   ]}
 ], "spacing": 27}
], "spacing": 53}
]
}
